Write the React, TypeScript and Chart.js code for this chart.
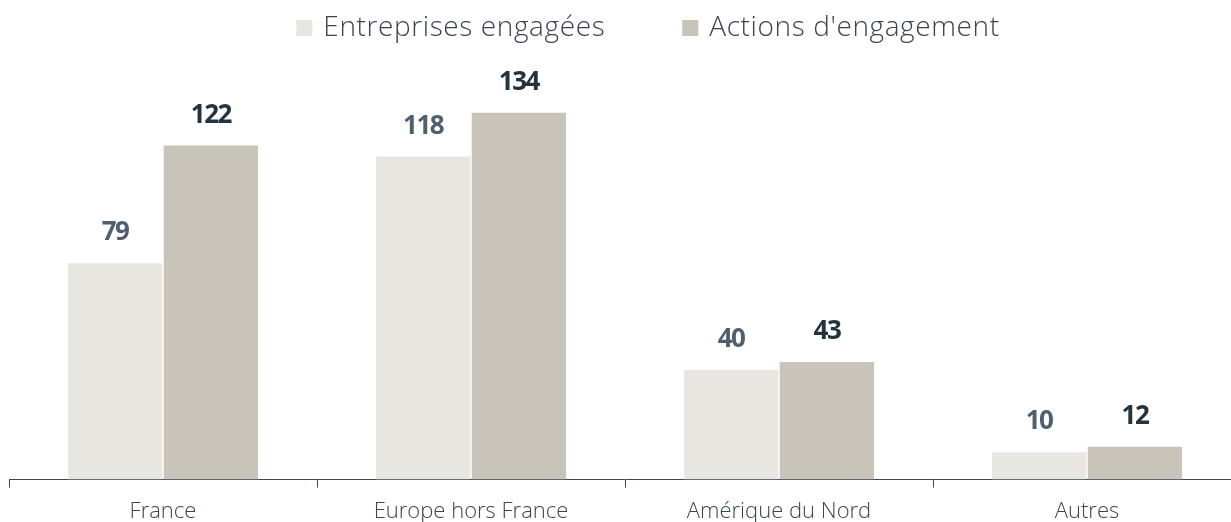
import React, { useEffect, useRef } from "react";
import { Chart, registerables } from "chart.js";

Chart.register(...registerables);

const categories = ["France", "Europe hors France", "Amérique du Nord", "Autres"];
const seriesLabels = ["Entreprises engagées", "Actions d'engagement"];
const entreprises = [79, 118, 40, 10];
const actions = [122, 134, 43, 12];

const barColors = ["#e8e6e1", "#c8c4b9"];
const labelColors = ["#505f6f", "#243340"];
const textColor = "#3a4550";
const axisColor = "#3a4650";

const legendPlugin = {
  id: "customLegend",
  afterDraw(chart: any) {
    const ctx = chart.ctx;
    ctx.save();
    ctx.font = '300 28px "Open Sans"';
    (ctx as any).letterSpacing = "0.6px";
    const items = chart.data.datasets.map((ds: any) => ({
      label: ds.label,
      color: ds.backgroundColor,
      w: ctx.measureText(ds.label).width,
    }));
    const box = 16;
    const gapText = 11;
    const gapItem = 77;
    const total =
      items.reduce((s: number, it: any) => s + box + gapText + it.w, 0) +
      gapItem * (items.length - 1);
    let x = (chart.width - total) / 2;
    const cy = 20;
    items.forEach((it: any) => {
      ctx.fillStyle = it.color;
      ctx.fillRect(x, cy - 8, box, box);
      x += box + gapText;
      ctx.fillStyle = textColor;
      ctx.textBaseline = "middle";
      ctx.textAlign = "left";
      ctx.fillText(it.label, x, cy);
      x += it.w + gapItem;
    });
    ctx.restore();
  },
};

const valueLabelPlugin = {
  id: "valueLabels",
  afterDatasetsDraw(chart: any) {
    const ctx = chart.ctx;
    ctx.save();
    ctx.font = '700 26px "Open Sans"';
    (ctx as any).letterSpacing = "-1.5px";
    ctx.textAlign = "center";
    ctx.textBaseline = "alphabetic";
    chart.data.datasets.forEach((ds: any, di: number) => {
      const meta = chart.getDatasetMeta(di);
      ctx.fillStyle = labelColors[di];
      meta.data.forEach((el: any, i: number) => {
        ctx.fillText(String(ds.data[i]), el.x, el.y - 23);
      });
    });
    ctx.restore();
  },
};

export default function App() {
  const ref = useRef<HTMLCanvasElement | null>(null);
  useEffect(() => {
    document.documentElement.style.overflow = "hidden";
    if (!ref.current) return;
    const chart = new Chart(ref.current, {
      type: "bar",
      data: {
        labels: categories,
        datasets: [
          {
            label: seriesLabels[0],
            data: entreprises,
            backgroundColor: barColors[0],
            categoryPercentage: 0.622,
            barPercentage: 0.985,
          },
          {
            label: seriesLabels[1],
            data: actions,
            backgroundColor: barColors[1],
            categoryPercentage: 0.622,
            barPercentage: 0.985,
          },
        ],
      },
      options: {
        responsive: false,
        animation: false,
        layout: { padding: { top: 50, left: 1, right: 47, bottom: 0 } },
        plugins: {
          legend: { display: false },
          tooltip: { enabled: false },
        },
        scales: {
          x: {
            grid: {
              display: true,
              drawOnChartArea: false,
              drawTicks: true,
              tickLength: 8,
              color: axisColor,
              lineWidth: 1,
            },
            border: { display: true, color: axisColor, width: 1 },
            ticks: {
              color: textColor,
              padding: 11,
              font: { family: '"Open Sans"', size: 22, weight: "300" as any },
            },
          },
          y: {
            display: false,
            min: 0,
            max: 154,
          },
        },
      },
      plugins: [legendPlugin, valueLabelPlugin],
    });
    return () => chart.destroy();
  }, []);
  return (
    <div style={{ height: "514px" }}>
      <div style={{ position: "fixed", left: "8px", top: "8px", width: "1280px", height: "528px" }}>
        <canvas ref={ref} width={1280} height={528} style={{ display: "block" }} />
      </div>
    </div>
  );
}
